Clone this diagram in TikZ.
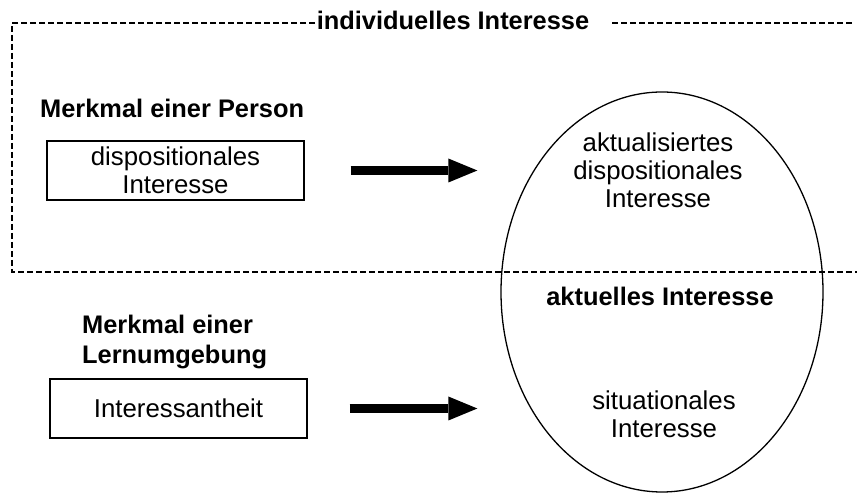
\documentclass[tikz,border=0pt]{standalone}
\usepackage{fontspec}
\setmainfont{Liberation Sans}
\usepackage{tikz}
\usetikzlibrary{positioning,shapes.geometric,arrows.meta}

\begin{document}
\begin{tikzpicture}[x=1pt,y=1pt,font=\fontsize{25.8}{28}\selectfont,
  box/.style={draw,line width=1.2pt,minimum width=257pt,minimum height=59pt,align=center},
  heading/.style={font=\fontsize{25.4}{30}\selectfont\bfseries,inner sep=0pt},
  bigarrow/.style={line width=9pt,-{Triangle[length=29pt,width=24pt,line width=0pt]},shorten >=23pt},
  frame/.style={line width=1.1pt,dash pattern=on 6pt off 3pt}]
\useasboundingbox (0,0) rectangle (857,494);
  \def\lefttop{(12,471)}
      \node[heading] (title) at (453,474) {individuelles Interesse};
      \draw[frame] (315,471) -- \lefttop -- (12,222) -- (857,222);
      \draw[frame] (612,471) -- (852,471);
      \node[heading,anchor=west] (person) at (40,386) {Merkmal einer Person};
      \node[box] (dispo) at (175.5,323.5) {dispositionales\\Interesse};
      \node[heading,anchor=west,align=left] (umgebung) at (82,152) {Merkmal einer\\Lernumgebung};
      \node[box] (inter) at (178.5,85.5) {Interessantheit};
      \node[ellipse,draw,line width=1.3pt,minimum width=322pt,minimum height=400pt,inner sep=0pt] (ell) at (662,202) {};
      \node[align=center] (aktdispo) at (658,324) {aktualisiertes\\dispositionales\\Interesse};
      \node[heading] (aktuell) at (660,198) {aktuelles Interesse};
      \node[align=center] (situ) at (664,80) {situationales\\Interesse};
      \draw[bigarrow,shorten <=46pt] (dispo.east) -- (dispo.east -| ell.west);
      \draw[bigarrow,shorten <=42pt] (inter.east) -- (inter.east -| ell.west);
\end{tikzpicture}
\end{document}
